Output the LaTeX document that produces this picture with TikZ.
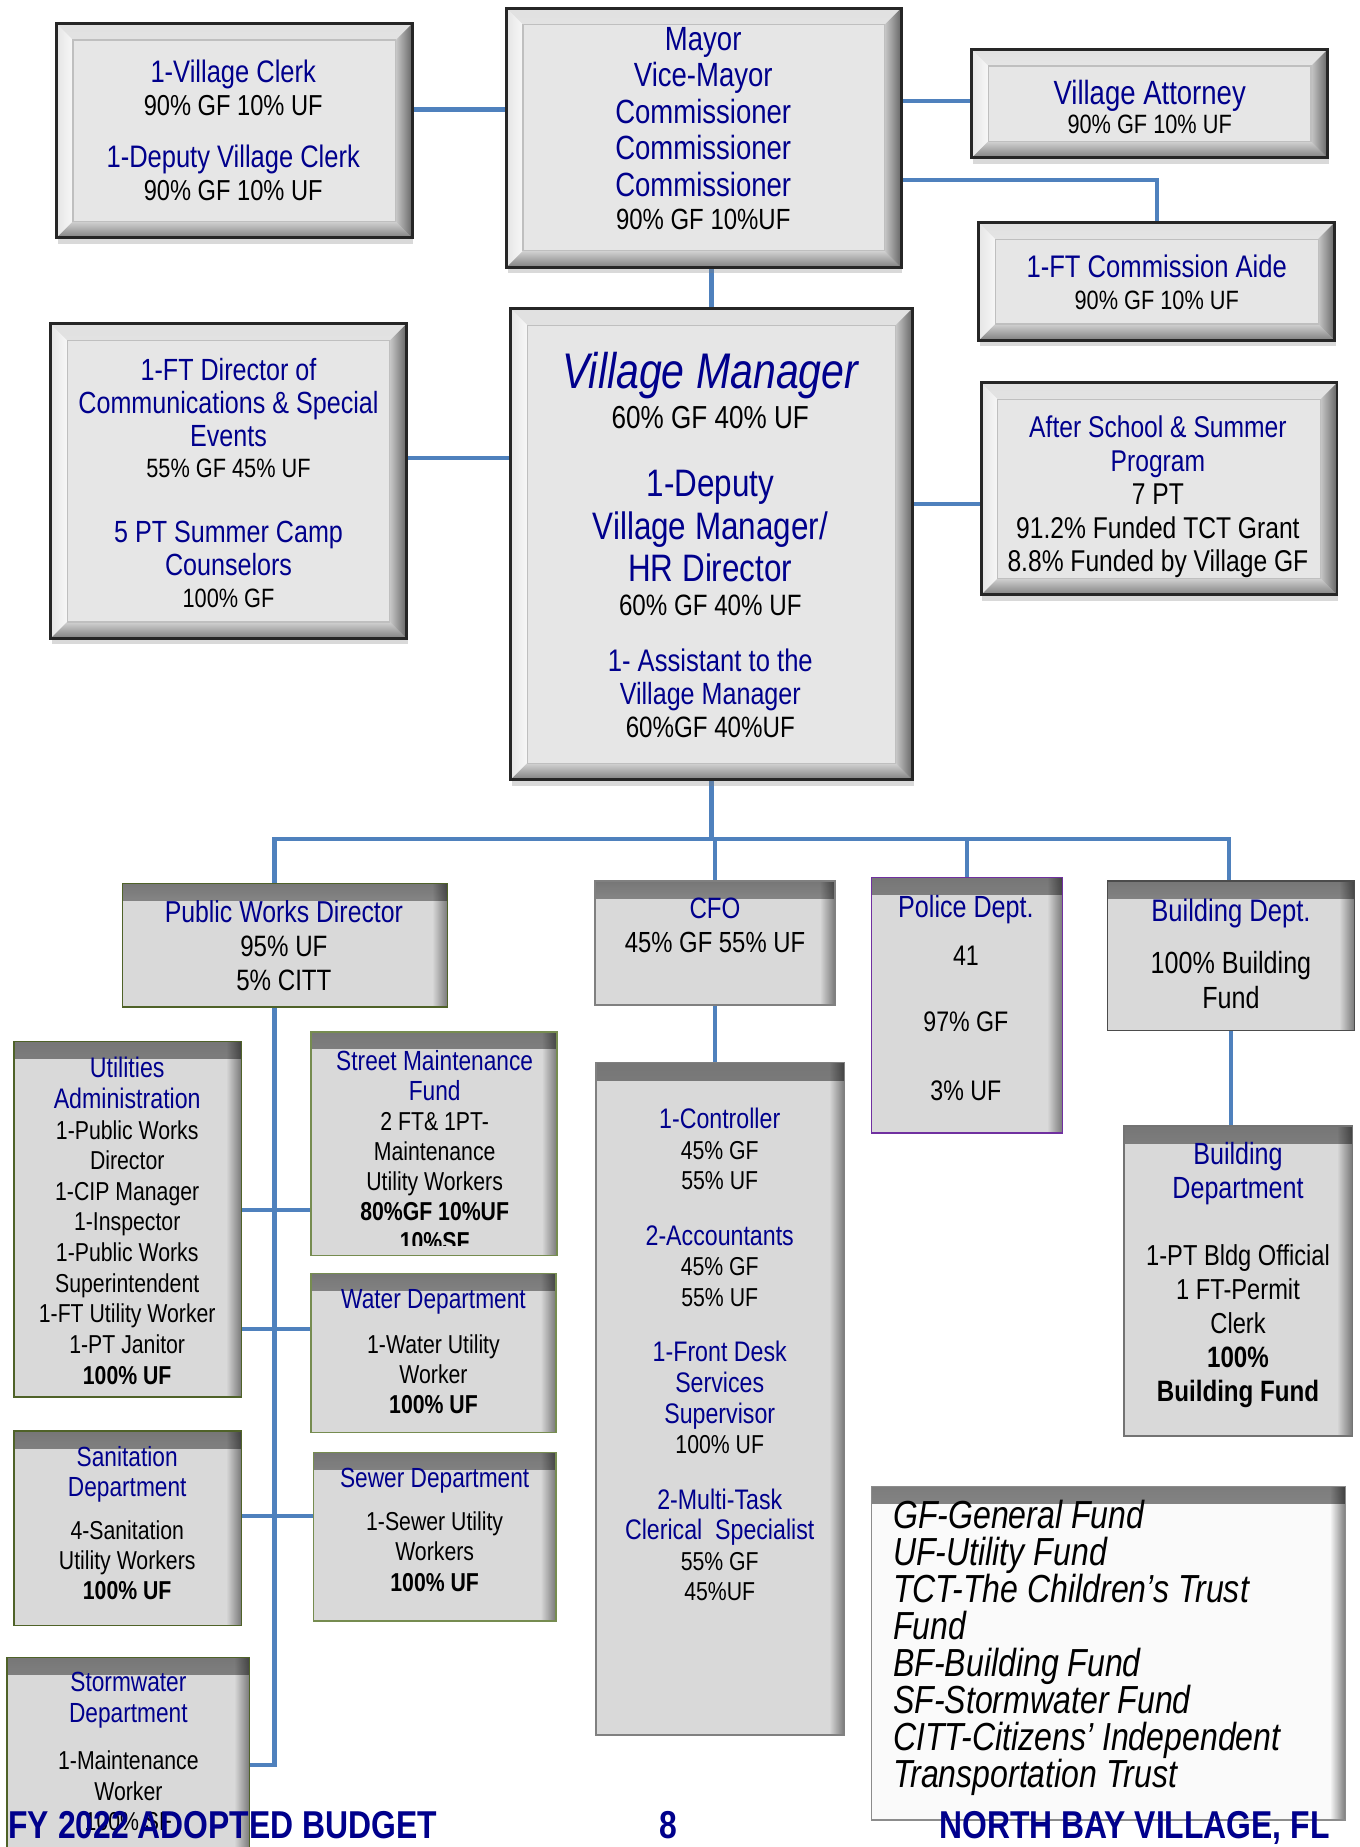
\documentclass[tikz,border=0pt]{standalone}
\usepackage{fontspec}
\setmainfont[FakeStretch=0.82]{Liberation Sans}
\usetikzlibrary{shadows,backgrounds,fadings}
\tikzfading[name=topfade, top color=transparent!0, bottom color=transparent!100]
\tikzfading[name=rightfade, left color=transparent!100, right color=transparent!0]
\definecolor{orgblue}{RGB}{0,0,140}
\definecolor{connblue}{RGB}{79,129,189}
\definecolor{topfill}{RGB}{230,230,230}
\definecolor{flatfill}{RGB}{217,217,217}
\definecolor{olivebd}{RGB}{79,98,40}
\definecolor{olivelt}{RGB}{118,140,80}
\definecolor{purplebd}{RGB}{112,48,160}
\newcommand{\bt}[2]{{\color{orgblue}\fontsize{#1}{#1}\selectfont #2}}
\newcommand{\kt}[2]{{\fontsize{#1}{#1}\selectfont #2}}
\newcommand{\kb}[2]{{\fontsize{#1}{#1}\selectfont\bfseries #2}}
\newcommand{\lsk}[1]{\fontsize{22}{#1}\selectfont\lineskiplimit=-100pt\relax}
\newcommand{\legfont}{\fontsize{33.2}{31.4}\selectfont\itshape\lineskiplimit=-100pt\relax}
\newcommand{\footfont}{\fontsize{33}{33}\selectfont\bfseries}
\begin{document}
\begin{tikzpicture}[x=1pt,y=1pt,
  bevelbox/.style={draw=black!85, line width=2.5pt, fill=topfill, inner sep=0pt,
    drop shadow={shadow xshift=1pt, shadow yshift=-5pt, opacity=.3},
    path picture={
      \shade[top color=black!12, bottom color=white]
        (path picture bounding box.north west) -- (path picture bounding box.north east)
        -- ([shift={(-14pt,-14pt)}]path picture bounding box.north east)
        -- ([shift={(14pt,-14pt)}]path picture bounding box.north west) -- cycle;
      \shade[left color=black!10, right color=black!3]
        (path picture bounding box.north west) -- ([shift={(14pt,-14pt)}]path picture bounding box.north west)
        -- ([shift={(14pt,14pt)}]path picture bounding box.south west)
        -- (path picture bounding box.south west) -- cycle;
      \shade[top color=black!18, bottom color=black!50]
        (path picture bounding box.south west) -- ([shift={(14pt,14pt)}]path picture bounding box.south west)
        -- ([shift={(-14pt,14pt)}]path picture bounding box.south east)
        -- (path picture bounding box.south east) -- cycle;
      \shade[left color=black!22, right color=black!60]
        (path picture bounding box.north east) -- (path picture bounding box.south east)
        -- ([shift={(-14pt,14pt)}]path picture bounding box.south east)
        -- ([shift={(-14pt,-14pt)}]path picture bounding box.north east) -- cycle;
      \draw[black!25, line width=1pt] ([shift={(14pt,-14pt)}]path picture bounding box.north west)
        rectangle ([shift={(-14pt,14pt)}]path picture bounding box.south east);
    }},
  flatbox/.style={fill=flatfill, line width=1.3pt, inner sep=0pt,
    path picture={
      \fill[black, opacity=.45, path fading=topfade]
        (path picture bounding box.north west) rectangle ([yshift=-15pt]path picture bounding box.north east);
      \fill[black, opacity=.45, path fading=rightfade]
        ([xshift=-13pt]path picture bounding box.north east) rectangle (path picture bounding box.south east);
    }},
  legbox/.style={fill=white!98!black, draw=black!45, line width=1.2pt, inner sep=0pt,
    path picture={
      \fill[black, opacity=.5, path fading=topfade]
        (path picture bounding box.north west) rectangle ([yshift=-15pt]path picture bounding box.north east);
      \fill[black, opacity=.5, path fading=rightfade]
        ([xshift=-13pt]path picture bounding box.north east) rectangle (path picture bounding box.south east);
    }},
  connline/.style={draw=connblue, line width=3.5pt},
  txt/.style={inner sep=0pt, align=center, anchor=north}
]
\useasboundingbox (0,0) rectangle (1154,-1568);
\clip (0,0) rectangle (1154,-1568);

% ---------- top boxes ----------
\node[bevelbox, minimum width=302pt, minimum height=182pt] (clerk) at (199,-111) {};
\node[bevelbox, minimum width=335pt, minimum height=220pt] (mayor) at (597.5,-117) {};
\node[bevelbox, minimum width=302pt, minimum height=92pt] (attorney) at (976,-88) {};
\node[bevelbox, minimum width=302pt, minimum height=100pt] (aide) at (982,-239) {};
\node[bevelbox, minimum width=302pt, minimum height=267pt] (comm) at (194,-408.5) {};
\node[bevelbox, minimum width=341pt, minimum height=400pt] (manager) at (604,-462) {};
\node[bevelbox, minimum width=302pt, minimum height=180pt] (after) at (984,-415) {};

% ---------- lower boxes ----------
\node[flatbox, draw=olivebd, minimum width=276pt, minimum height=105pt] (pwd) at (242,-802.5) {};
\node[flatbox, draw=black!50, minimum width=204pt, minimum height=105pt] (cfo) at (607,-800.5) {};
\node[flatbox, draw=purplebd, minimum width=162pt, minimum height=217pt] (police) at (821,-853.5) {};
\node[flatbox, draw=black!70, minimum width=210pt, minimum height=127pt] (bldg) at (1045,-811.5) {};
\node[flatbox, draw=black!55, minimum width=194pt, minimum height=263pt] (bldgdept) at (1051,-1087.5) {};
\node[flatbox, draw=black!50, minimum width=211pt, minimum height=571pt] (fin) at (611.5,-1187.5) {};
\node[flatbox, draw=olivebd, minimum width=193pt, minimum height=302pt] (util) at (108.5,-1035) {};
\node[flatbox, draw=olivelt, minimum width=209pt, minimum height=190pt] (street) at (368.5,-971) {};
\node[flatbox, draw=olivelt, minimum width=208pt, minimum height=135pt] (water) at (368,-1148.5) {};
\node[flatbox, draw=olivebd, minimum width=193pt, minimum height=165pt] (sanit) at (108.5,-1297.5) {};
\node[flatbox, draw=olivelt, minimum width=206pt, minimum height=143pt] (sewer) at (369,-1304.5) {};
\node[flatbox, draw=olivebd, minimum width=206pt, minimum height=183pt] (storm) at (109,-1498.5) {};
\node[legbox, minimum width=402pt, minimum height=283pt] (legend) at (941,-1403.5) {};

% ---------- helper coordinates ----------
\coordinate (h1) at (0,-93);
\coordinate (h2) at (0,-86);
\coordinate (h3) at (0,-153);
\coordinate (h4) at (0,-389);
\coordinate (h5) at (0,-428);
\coordinate (h6) at (0,-1027);
\coordinate (h7) at (0,-1128);
\coordinate (h8) at (0,-1287);
\coordinate (busL) at (233,-712);
\coordinate (busR) at (1043,-712);

% ---------- connectors ----------
\begin{scope}[on background layer]
\draw[connline] (clerk.east |- h1) -- (mayor.west |- h1);
\draw[connline] (mayor.east |- h2) -- (attorney.west |- h2);
\draw[connline] (mayor.east |- h3) -| (aide.north);
\draw[connline] (manager.north) -- (manager.north |- mayor.south);
\draw[connline] (comm.east |- h4) -- (manager.west |- h4);
\draw[connline] (manager.east |- h5) -- (after.west |- h5);
\draw[connline] (manager.south) -- (manager.south |- busL);
\draw[connline] (busL |- pwd.north) -- (busL) -- (busR) -- (busR |- bldg.north);
\draw[connline] (cfo.north) -- (cfo.north |- busL);
\draw[connline] (police.north) -- (police.north |- busL);
\draw[connline] (cfo.south) -- (cfo.south |- fin.north);
\draw[connline] (bldg.south) -- (bldg.south |- bldgdept.north);
\draw[connline] (busL |- pwd.south) |- (storm.east);
\draw[connline] (util.east |- h6) -- (street.west |- h6);
\draw[connline] (util.east |- h7) -- (water.west |- h7);
\draw[connline] (sanit.east |- h8) -- (sewer.west |- h8);
\end{scope}

% ---------- texts ----------
\node[txt, font=\lsk{27.7}] (clerkT) at (198,-50.6)
 {\bt{26.4}{1-Village Clerk}\\ \kt{24.5}{90\% GF 10\% UF}\\[17pt]
  \bt{26.4}{1-Deputy Village Clerk}\\ \kt{24.5}{90\% GF 10\% UF}};
\node[txt, font=\lsk{31}] (mayorT) at (597,-22.7)
 {\bt{28.5}{Mayor}\\ \bt{28.5}{Vice-Mayor}\\ \bt{28.5}{Commissioner}\\
  \bt{28.5}{Commissioner}\\ \bt{28.5}{Commissioner}\\[-2.4pt] \kt{24.8}{90\% GF 10\%UF}};
\node[txt, font=\lsk{24.8}] (attT) at (976,-67.7)
 {\bt{28.5}{Village Attorney}\\ \kt{22.5}{90\% GF 10\% UF}};
\node[txt, font=\lsk{26.6}] (aideT) at (982,-216.5)
 {\bt{26.5}{1-FT Commission Aide}\\ \kt{22.5}{90\% GF 10\% UF}};
\node[txt, font=\lsk{28}] (commT) at (194,-303.6)
 {\bt{26}{1-FT Director of}\\ \bt{26}{Communications \& Special}\\ \bt{26}{Events}\\[-1.3pt]
  \kt{22.5}{55\% GF 45\% UF}\\[27.3pt]
  \bt{26}{5 PT Summer Camp}\\ \bt{26}{Counselors}\\[-1.3pt] \kt{22.5}{100\% GF}};
\node[txt, font=\lsk{28}] (mgrT) at (603,-298.9)
 {{\color{orgblue}\fontsize{42.5}{42.5}\selectfont\itshape Village Manager}\\[5.7pt]
  \kt{27}{60\% GF 40\% UF}\\[30pt]
  \bt{32.5}{1-Deputy}\\[8pt]
  \bt{32.5}{Village Manager/}\\[8pt]
  \bt{32.5}{HR Director}\\[1.3pt]
  \kt{25}{60\% GF 40\% UF}\\[19pt]
  \bt{26.5}{1- Assistant to the}\\
  \bt{26}{Village Manager}\\
  \kt{25}{60\%GF 40\%UF}};
\node[txt, font=\lsk{28.5}] (afterT) at (983,-352.8)
 {\bt{25.5}{After School \& Summer}\\ \bt{25.5}{Program}\\ \kt{25.5}{7 PT}\\
  \kt{25.5}{91.2\% Funded TCT Grant}\\ \kt{25.5}{8.8\% Funded by Village GF}};

\node[txt, font=\lsk{28.5}] (pwdT) at (241,-764.7)
 {\bt{25.7}{Public Works Director}\\ \kt{25}{95\% UF}\\ \kt{25}{5\% CITT}};
\node[txt, font=\lsk{29}] (cfoT) at (607,-762)
 {\bt{25}{CFO}\\ \kt{24.7}{45\% GF 55\% UF}};
\node[txt, font=\lsk{28}] (polT) at (820,-759.6)
 {\bt{26}{Police Dept.}\\[13.2pt] \kt{24}{41}\\[28pt] \kt{24}{97\% GF}\\[30pt] \kt{24}{3\% UF}};
\node[txt, font=\lsk{29}] (bldgT) at (1045,-763)
 {\bt{26.5}{Building Dept.}\\[15.4pt] \kt{26}{100\% Building}\\ \kt{26}{Fund}};
\node[txt, font=\lsk{29}] (bdT) at (1051,-969.6)
 {\bt{26}{Building}\\ \bt{26}{Department}\\[27.4pt]
  \kt{24.5}{1-PT Bldg Official}\\ \kt{24.5}{1 FT-Permit}\\ \kt{24.5}{Clerk}\\
  \kb{25}{100\%}\\ \kb{25}{Building Fund}};
\node[txt, font=\lsk{26}] (finT) at (611,-940.5)
 {\bt{24}{1-Controller}\\ \kt{22}{45\% GF}\\ \kt{22}{55\% UF}\\[21pt]
  \bt{24}{2-Accountants}\\ \kt{22}{45\% GF}\\ \kt{22}{55\% UF}\\[21pt]
  \bt{24}{1-Front Desk}\\ \bt{24}{Services}\\ \bt{24}{Supervisor}\\ \kt{22}{100\% UF}\\[21pt]
  \bt{24}{2-Multi-Task}\\ \bt{24}{Clerical\ \ Specialist}\\ \kt{22}{55\% GF}\\ \kt{22}{45\%UF}};
\node[txt, font=\lsk{26}] (utilT) at (108,-897.4)
 {\bt{24}{Utilities}\\ \bt{24}{Administration}\\ \kt{22}{1-Public Works}\\ \kt{22}{Director}\\
  \kt{22}{1-CIP Manager}\\ \kt{22}{1-Inspector}\\ \kt{22}{1-Public Works}\\
  \kt{22}{Superintendent}\\ \kt{22}{1-FT Utility Worker}\\ \kt{22}{1-PT Janitor}\\
  \kb{22}{100\% UF}};
\begin{scope}
\clip (street.north west) rectangle ([yshift=9pt]street.south east);
\node[txt, font=\lsk{25.5}] (streetT) at (369,-891.5)
 {\bt{23.5}{Street Maintenance}\\ \bt{23.5}{Fund}\\ \kt{22}{2 FT\& 1PT-}\\
  \kt{22}{Maintenance}\\ \kt{22}{Utility Workers}\\ \kb{22}{80\%GF 10\%UF}\\ \kb{22}{10\%SF}};
\end{scope}
\node[txt, font=\lsk{25.5}] (waterT) at (368,-1094.5)
 {\bt{23.5}{Water Department}\\[13pt] \kt{22}{1-Water Utility}\\ \kt{22}{Worker}\\ \kb{22}{100\% UF}};
\node[txt, font=\lsk{25.5}] (sanT) at (108,-1227.5)
 {\bt{23.5}{Sanitation}\\ \bt{23.5}{Department}\\[11pt] \kt{22}{4-Sanitation}\\
  \kt{22}{Utility Workers}\\ \kb{22}{100\% UF}};
\node[txt, font=\lsk{26}] (sewT) at (369,-1246.5)
 {\bt{23.5}{Sewer Department}\\[10pt] \kt{22}{1-Sewer Utility}\\ \kt{22}{Workers}\\ \kb{22}{100\% UF}};
\node[txt, font=\lsk{26}] (stormT) at (109,-1419.5)
 {\bt{23.5}{Stormwater}\\ \bt{23.5}{Department}\\[14pt] \kt{22}{1-Maintenance}\\
  \kt{22}{Worker}\\ \kt{22}{100\% SF}};
\node[inner sep=0pt, align=left, anchor=north west, font=\legfont] (legT) at (758,-1273)
 {GF-General Fund\\ UF-Utility Fund\\ TCT-The Children’s Trust\\ Fund\\ BF-Building Fund\\
  SF-Stormwater Fund\\ CITT-Citizens’ Independent\\ Transportation Trust};

% ---------- footer ----------
\node[inner sep=0pt, anchor=base west, text=orgblue, font=\footfont] (footL) at (7,-1561) {FY 2022 ADOPTED BUDGET};
\node[inner sep=0pt, anchor=base, text=orgblue, font=\footfont] (footC) at (567,-1561) {8};
\node[inner sep=0pt, anchor=base east, text=orgblue, font=\footfont] (footR) at (1129,-1561) {NORTH BAY VILLAGE, FL};
\end{tikzpicture}
\end{document}
